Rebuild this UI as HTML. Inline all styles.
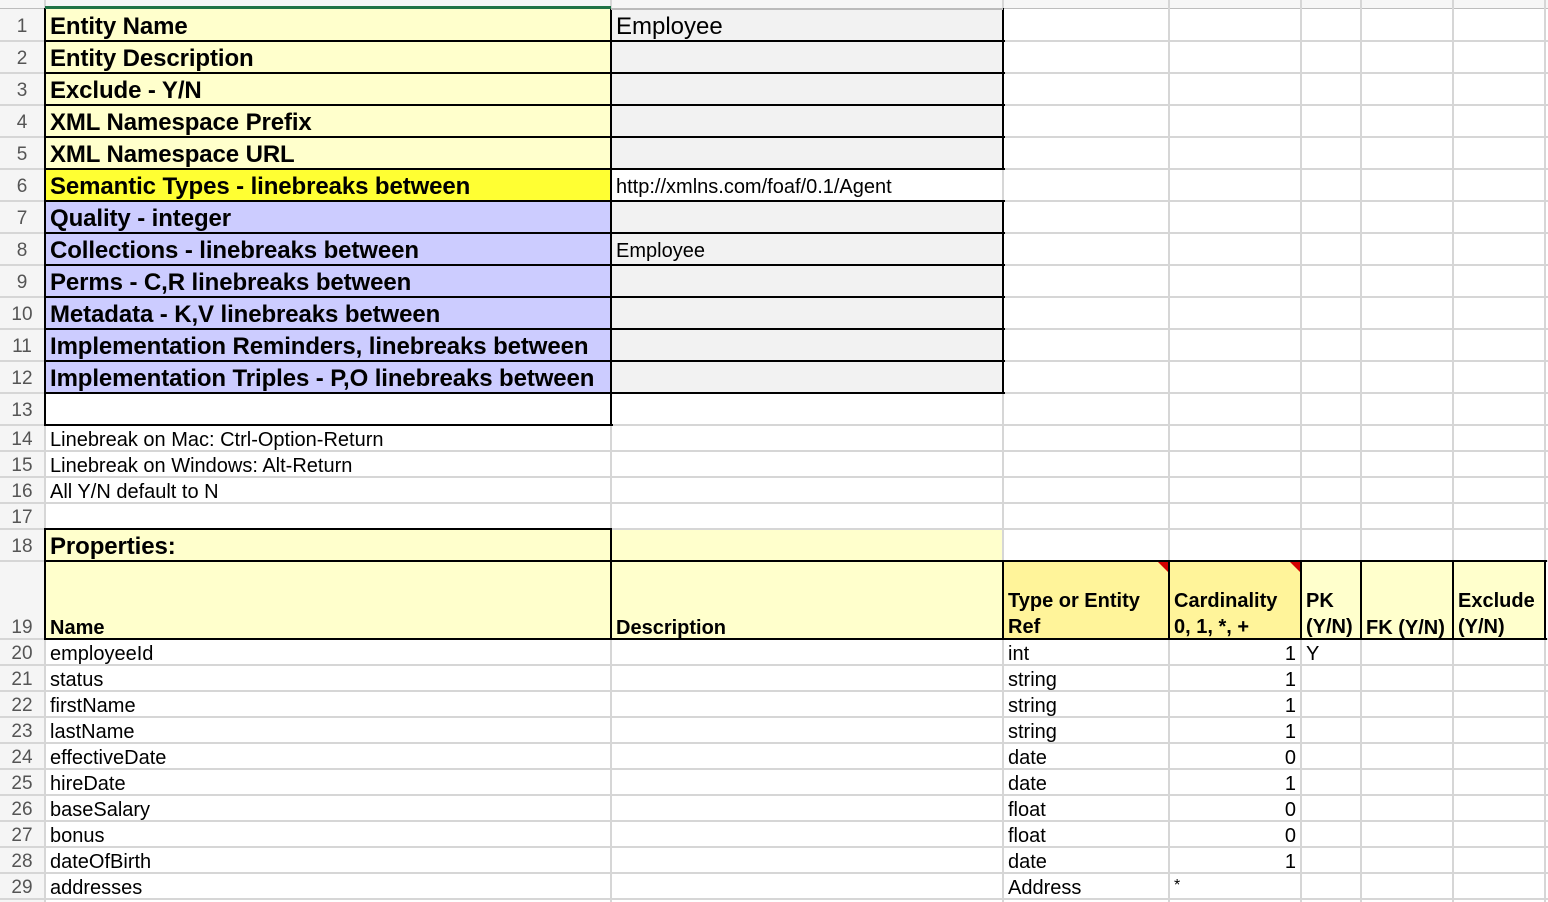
<!DOCTYPE html>
<html><head><meta charset="utf-8"><style>
*{margin:0;padding:0;box-sizing:border-box}
body{width:1548px;height:902px;overflow:hidden;background:#fff;position:relative;font-family:"Liberation Sans",Arial,sans-serif;color:#000}
div{position:absolute}
.gv{width:2px;background:#d6d6d6;top:0;height:902px}
.gh{height:2px;background:#d6d6d6;left:0;width:1548px}
.bh{height:2px;background:#000}
.bv{width:2px;background:#000}
.n{left:0;width:44px;text-align:center;font-size:19px;color:#555}
.t{white-space:nowrap;overflow:hidden}
.L{font-weight:bold;font-size:24px;left:50px;letter-spacing:-0.1px}
.s{font-size:20px}
</style></head><body>
<div style="left:0;top:0;width:1548px;height:8px;background:#f6f6f6"></div>
<div style="left:0;top:8px;width:1548px;height:1px;background:#bdbdbd"></div>
<div style="left:0;top:9px;width:45px;height:893px;background:#f5f5f5"></div>
<div style="left:45px;top:9px;width:566px;height:160px;background:#ffffcc"></div>
<div style="left:45px;top:169px;width:566px;height:32px;background:#ffff33"></div>
<div style="left:45px;top:201px;width:566px;height:192px;background:#ccccff"></div>
<div style="left:611px;top:9px;width:392px;height:160px;background:#f2f2f2"></div>
<div style="left:611px;top:201px;width:392px;height:192px;background:#f2f2f2"></div>
<div style="left:45px;top:529px;width:958px;height:32px;background:#ffffcc"></div>
<div style="left:45px;top:561px;width:1500px;height:78px;background:#ffffcc"></div>
<div style="left:1003px;top:561px;width:298px;height:78px;background:#fff49a"></div>
<div class="gv" style="left:44px"></div>
<div class="gv" style="left:610px"></div>
<div class="gv" style="left:1002px"></div>
<div class="gv" style="left:1168px"></div>
<div class="gv" style="left:1300px"></div>
<div class="gv" style="left:1360px"></div>
<div class="gv" style="left:1452px"></div>
<div class="gv" style="left:1544px"></div>
<div class="gh" style="top:40px"></div><div class="gh" style="top:72px"></div><div class="gh" style="top:104px"></div><div class="gh" style="top:136px"></div><div class="gh" style="top:168px"></div><div class="gh" style="top:200px"></div><div class="gh" style="top:232px"></div><div class="gh" style="top:264px"></div><div class="gh" style="top:296px"></div><div class="gh" style="top:328px"></div><div class="gh" style="top:360px"></div><div class="gh" style="top:392px"></div><div class="gh" style="top:424px"></div><div class="gh" style="top:450px"></div><div class="gh" style="top:476px"></div><div class="gh" style="top:502px"></div><div class="gh" style="top:528px"></div><div class="gh" style="top:560px"></div><div class="gh" style="top:638px"></div><div class="gh" style="top:664px"></div><div class="gh" style="top:690px"></div><div class="gh" style="top:716px"></div><div class="gh" style="top:742px"></div><div class="gh" style="top:768px"></div><div class="gh" style="top:794px"></div><div class="gh" style="top:820px"></div><div class="gh" style="top:846px"></div><div class="gh" style="top:872px"></div><div class="gh" style="top:898px"></div>
<div class="bh" style="left:45px;width:960px;top:40px"></div>
<div class="bh" style="left:45px;width:960px;top:72px"></div>
<div class="bh" style="left:45px;width:960px;top:104px"></div>
<div class="bh" style="left:45px;width:960px;top:136px"></div>
<div class="bh" style="left:45px;width:960px;top:168px"></div>
<div class="bh" style="left:45px;width:960px;top:200px"></div>
<div class="bh" style="left:45px;width:960px;top:232px"></div>
<div class="bh" style="left:45px;width:960px;top:264px"></div>
<div class="bh" style="left:45px;width:960px;top:296px"></div>
<div class="bh" style="left:45px;width:960px;top:328px"></div>
<div class="bh" style="left:45px;width:960px;top:360px"></div>
<div class="bh" style="left:45px;width:960px;top:392px"></div>
<div class="bh" style="left:45px;width:568px;top:424px"></div>
<div class="bv" style="left:44px;top:8px;height:418px"></div>
<div class="bv" style="left:610px;top:8px;height:418px"></div>
<div class="bv" style="left:1002px;top:8px;height:162px"></div>
<div class="bv" style="left:1002px;top:200px;height:194px"></div>
<div style="left:45px;top:6px;width:566px;height:3px;background:#217346"></div>
<div class="bh" style="left:611px;width:392px;top:8px;background:#bbb"></div>
<div class="bh" style="left:44px;width:568px;top:528px"></div>
<div class="bh" style="left:44px;width:1503px;top:560px"></div>
<div class="bh" style="left:44px;width:1503px;top:638px"></div>
<div class="bv" style="left:44px;top:528px;height:112px"></div>
<div class="bv" style="left:610px;top:528px;height:112px"></div>
<div class="bv" style="left:1002px;top:560px;height:80px"></div>
<div class="bv" style="left:1168px;top:560px;height:80px"></div>
<div class="bv" style="left:1300px;top:560px;height:80px"></div>
<div class="bv" style="left:1360px;top:560px;height:80px"></div>
<div class="bv" style="left:1452px;top:560px;height:80px"></div>
<div class="bv" style="left:1544px;top:560px;height:80px"></div>
<div style="left:1158px;top:562px;width:0;height:0;border-left:10px solid transparent;border-top:10px solid #d40000"></div>
<div style="left:1290px;top:562px;width:0;height:0;border-left:10px solid transparent;border-top:10px solid #d40000"></div>
<div class="n" style="top:10px;line-height:34px">1</div>
<div class="n" style="top:42px;line-height:34px">2</div>
<div class="n" style="top:74px;line-height:34px">3</div>
<div class="n" style="top:106px;line-height:34px">4</div>
<div class="n" style="top:138px;line-height:34px">5</div>
<div class="n" style="top:170px;line-height:34px">6</div>
<div class="n" style="top:202px;line-height:34px">7</div>
<div class="n" style="top:234px;line-height:34px">8</div>
<div class="n" style="top:266px;line-height:34px">9</div>
<div class="n" style="top:298px;line-height:34px">10</div>
<div class="n" style="top:330px;line-height:34px">11</div>
<div class="n" style="top:362px;line-height:34px">12</div>
<div class="n" style="top:394px;line-height:34px">13</div>
<div class="n" style="top:426px;line-height:28px">14</div>
<div class="n" style="top:452px;line-height:28px">15</div>
<div class="n" style="top:478px;line-height:28px">16</div>
<div class="n" style="top:504px;line-height:28px">17</div>
<div class="n" style="top:530px;line-height:34px">18</div>
<div class="n" style="top:614px;line-height:28px">19</div>
<div class="n" style="top:640px;line-height:28px">20</div>
<div class="n" style="top:666px;line-height:28px">21</div>
<div class="n" style="top:692px;line-height:28px">22</div>
<div class="n" style="top:718px;line-height:28px">23</div>
<div class="n" style="top:744px;line-height:28px">24</div>
<div class="n" style="top:770px;line-height:28px">25</div>
<div class="n" style="top:796px;line-height:28px">26</div>
<div class="n" style="top:822px;line-height:28px">27</div>
<div class="n" style="top:848px;line-height:28px">28</div>
<div class="n" style="top:874px;line-height:28px">29</div>
<div class="t L" style="top:10px;line-height:33px">Entity Name</div>
<div class="t L" style="top:42px;line-height:33px">Entity Description</div>
<div class="t L" style="top:74px;line-height:33px">Exclude - Y/N</div>
<div class="t L" style="top:106px;line-height:33px">XML Namespace Prefix</div>
<div class="t L" style="top:138px;line-height:33px">XML Namespace URL</div>
<div class="t L" style="top:170px;line-height:33px">Semantic Types - linebreaks between</div>
<div class="t L" style="top:202px;line-height:33px">Quality - integer</div>
<div class="t L" style="top:234px;line-height:33px">Collections - linebreaks between</div>
<div class="t L" style="top:266px;line-height:33px">Perms - C,R linebreaks between</div>
<div class="t L" style="top:298px;line-height:33px">Metadata - K,V linebreaks between</div>
<div class="t L" style="top:330px;line-height:33px">Implementation Reminders, linebreaks between</div>
<div class="t L" style="top:362px;line-height:33px">Implementation Triples - P,O linebreaks between</div>
<div class="t L" style="top:530px;line-height:33px">Properties:</div>
<div class="t" style="left:616px;top:10px;line-height:33px;font-size:24px">Employee</div>
<div class="t" style="left:616px;top:170px;line-height:34px;font-size:20px">http://xmlns.com/foaf/0.1/Agent</div>
<div class="t" style="left:616px;top:234px;line-height:35px;font-size:20px">Employee</div>
<div class="t s" style="left:50px;top:426px;line-height:28px">Linebreak on Mac: Ctrl-Option-Return</div>
<div class="t s" style="left:50px;top:452px;line-height:28px">Linebreak on Windows: Alt-Return</div>
<div class="t s" style="left:50px;top:478px;line-height:28px">All Y/N default to N</div>
<div style="left:50px;top:614px;line-height:28px;font-size:20px;font-weight:bold">Name</div>
<div style="left:616px;top:614px;line-height:28px;font-size:20px;font-weight:bold">Description</div>
<div style="left:1008px;top:588px;line-height:26px;font-size:20px;font-weight:bold;white-space:nowrap">Type or Entity<br>Ref</div>
<div style="left:1174px;top:588px;line-height:26px;font-size:20px;font-weight:bold;white-space:nowrap">Cardinality<br>0, 1, *, +</div>
<div style="left:1306px;top:588px;line-height:26px;font-size:20px;font-weight:bold">PK<br>(Y/N)</div>
<div style="left:1366px;top:614px;line-height:28px;font-size:20px;font-weight:bold;white-space:nowrap">FK (Y/N)</div>
<div style="left:1458px;top:588px;line-height:26px;font-size:20px;font-weight:bold">Exclude<br>(Y/N)</div>
<div class="t s" style="left:50px;top:640px;line-height:28px">employeeId</div>
<div class="t s" style="left:50px;top:666px;line-height:28px">status</div>
<div class="t s" style="left:50px;top:692px;line-height:28px">firstName</div>
<div class="t s" style="left:50px;top:718px;line-height:28px">lastName</div>
<div class="t s" style="left:50px;top:744px;line-height:28px">effectiveDate</div>
<div class="t s" style="left:50px;top:770px;line-height:28px">hireDate</div>
<div class="t s" style="left:50px;top:796px;line-height:28px">baseSalary</div>
<div class="t s" style="left:50px;top:822px;line-height:28px">bonus</div>
<div class="t s" style="left:50px;top:848px;line-height:28px">dateOfBirth</div>
<div class="t s" style="left:50px;top:874px;line-height:28px">addresses</div>
<div class="t s" style="left:1008px;top:640px;line-height:28px">int</div>
<div class="t s" style="left:1008px;top:666px;line-height:28px">string</div>
<div class="t s" style="left:1008px;top:692px;line-height:28px">string</div>
<div class="t s" style="left:1008px;top:718px;line-height:28px">string</div>
<div class="t s" style="left:1008px;top:744px;line-height:28px">date</div>
<div class="t s" style="left:1008px;top:770px;line-height:28px">date</div>
<div class="t s" style="left:1008px;top:796px;line-height:28px">float</div>
<div class="t s" style="left:1008px;top:822px;line-height:28px">float</div>
<div class="t s" style="left:1008px;top:848px;line-height:28px">date</div>
<div class="t s" style="left:1008px;top:874px;line-height:28px">Address</div>
<div class="t s" style="left:1170px;width:126px;text-align:right;top:640px;line-height:28px">1</div>
<div class="t s" style="left:1170px;width:126px;text-align:right;top:666px;line-height:28px">1</div>
<div class="t s" style="left:1170px;width:126px;text-align:right;top:692px;line-height:28px">1</div>
<div class="t s" style="left:1170px;width:126px;text-align:right;top:718px;line-height:28px">1</div>
<div class="t s" style="left:1170px;width:126px;text-align:right;top:744px;line-height:28px">0</div>
<div class="t s" style="left:1170px;width:126px;text-align:right;top:770px;line-height:28px">1</div>
<div class="t s" style="left:1170px;width:126px;text-align:right;top:796px;line-height:28px">0</div>
<div class="t s" style="left:1170px;width:126px;text-align:right;top:822px;line-height:28px">0</div>
<div class="t s" style="left:1170px;width:126px;text-align:right;top:848px;line-height:28px">1</div>
<div class="t" style="left:1174px;top:874px;line-height:24px;font-size:16px">*</div>
<div class="t s" style="left:1306px;top:640px;line-height:28px">Y</div>
</body></html>
